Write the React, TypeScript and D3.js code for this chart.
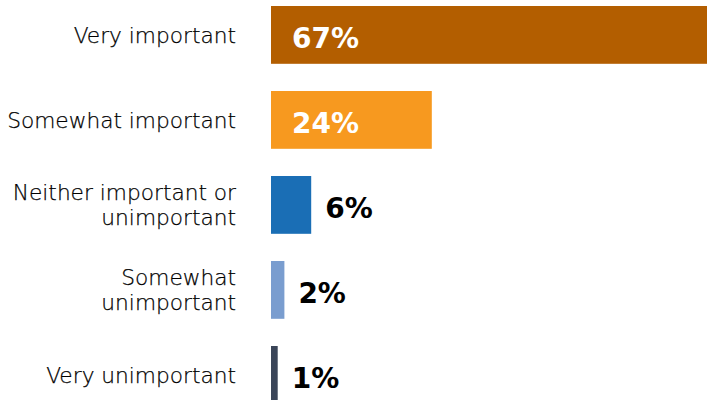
import React from "react";
import * as d3 from "d3";

const categories: string[][] = [
  ["Very important"],
  ["Somewhat important"],
  ["Neither important or", "unimportant"],
  ["Somewhat", "unimportant"],
  ["Very unimportant"],
];
const values: number[] = [67, 24, 6, 2, 1];
const colors: string[] = ["#B35E00", "#F7991F", "#1A6EB5", "#7A9DCF", "#3A4558"];

const W = 707;
const H = 400;

export default function App() {
  const ids = categories.map((_, i) => String(i));
  const x = d3.scaleLinear().domain([0, 100]).range([271, 941]);
  const y = d3
    .scaleBand<string>()
    .domain(ids)
    .range([6, 6 + 85 * (5 - 0.32)])
    .paddingInner(0.32)
    .paddingOuter(0);
  const labelFont = "'DejaVu Sans', sans-serif";
  const lineH = 25;
  return (
    <svg
      width={W}
      height={H}
      style={{ position: "absolute", left: 0, top: 0, display: "block" }}
    >
      <rect width={W} height={H} fill="#fff" />
      {ids.map((id, i) => {
        const y0 = y(id)!;
        const bh = y.bandwidth();
        const cy = y0 + bh / 2;
        const v = values[i];
        const inside = v >= 10;
        const lines = categories[i];
        return (
          <g key={id}>
            <rect x={x(0)} y={y0} width={x(v) - x(0)} height={bh} fill={colors[i]} />
            <text
              textAnchor="end"
              fontFamily={labelFont}
              fontWeight={300}
              fontSize={21.7}
              fill="#000"
              stroke="#000"
              strokeWidth={0.25}
            >
              {lines.map((ln, j) => (
                <tspan
                  key={j}
                  x={236}
                  y={cy + 7.8 + (j - (lines.length - 1) / 2) * lineH}
                >
                  {ln}
                </tspan>
              ))}
            </text>
            <text
              x={inside ? x(0) + 21 : x(v) + 14}
              y={cy + 13.5}
              fontFamily={labelFont}
              fontWeight={700}
              fontSize={28}
              fill={inside ? "#fff" : "#000"}
            >
              {`${v}%`}
            </text>
          </g>
        );
      })}
    </svg>
  );
}
